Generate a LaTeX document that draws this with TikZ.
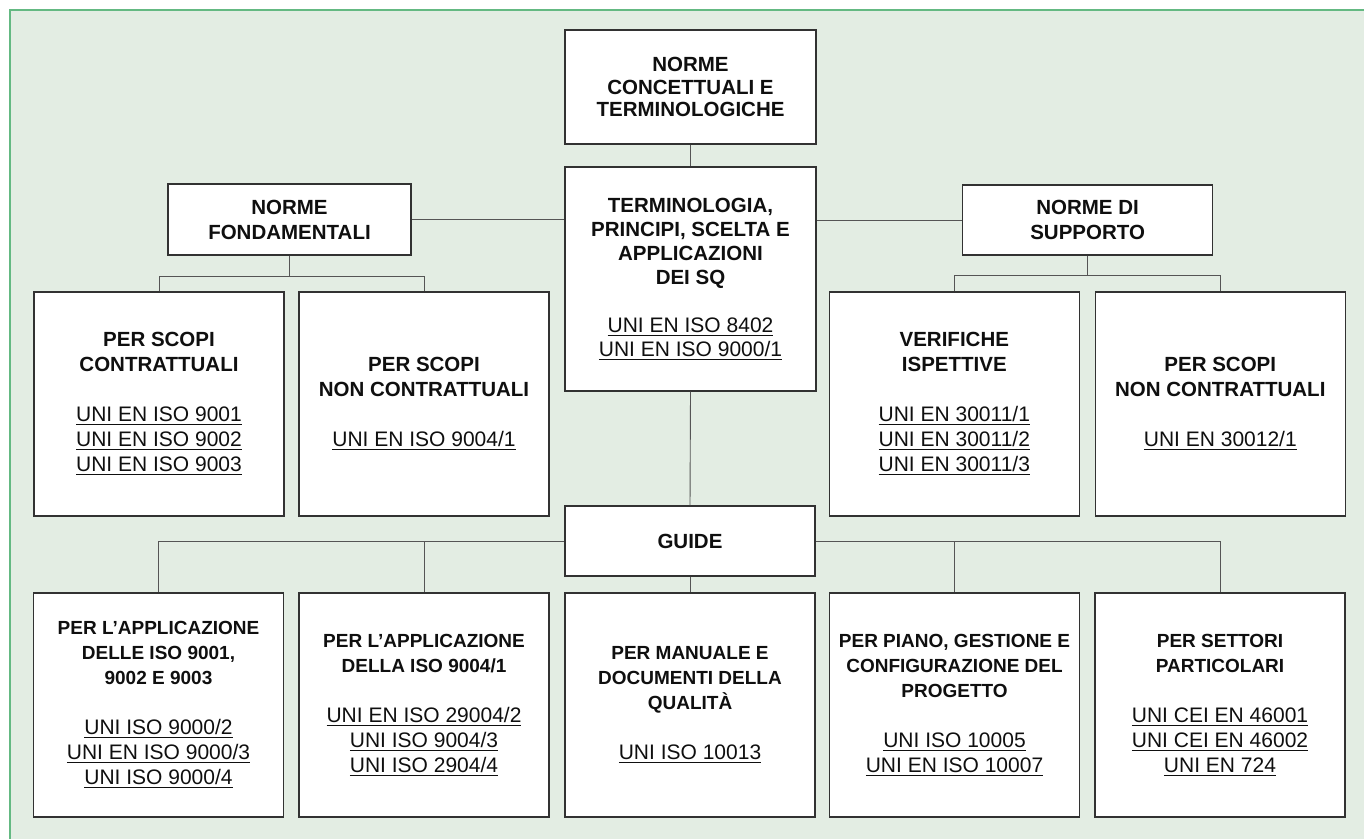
\documentclass[tikz,border=0pt]{standalone}
\usepackage{fontspec}
\setmainfont{Liberation Sans}
\usetikzlibrary{calc}
\definecolor{framefill}{RGB}{227,237,227}
\definecolor{frameline}{RGB}{100,185,130}
\definecolor{boxline}{RGB}{50,50,50}
\definecolor{conline}{RGB}{85,85,85}
\definecolor{txt}{RGB}{15,15,15}
\newcommand\undl[1]{{\fontsize{21}{25}\selectfont\mdseries\setbox0=\hbox{#1}\rlap{\rule[-3.6pt]{\wd0}{1.3pt}}\box0}}
\tikzset{
  box/.style={draw=boxline, fill=white, line width=1.1pt, align=center, inner sep=0pt, text=txt},
  bigbox/.style={box, minimum width=250pt, minimum height=224pt},
  topfont/.style={font=\fontsize{20.5}{25}\selectfont\bfseries},
  botfont/.style={font=\fontsize{19}{25}\selectfont\bfseries},
  con/.style={draw=conline, line width=0.9pt}
}
\begin{document}
\begin{tikzpicture}[x=1pt,y=-1pt]
\useasboundingbox (0,0) rectangle (1364,839);
\fill[white] (0,0) rectangle (1364,839);
\fill[framefill] (10,10) rectangle (1364,839);
\draw[frameline, line width=1.6pt] (10,839) -- (10,10) -- (1364,10);

% top level
\node[box, minimum width=251pt, minimum height=114pt, font=\fontsize{20.5}{22.5}\selectfont\bfseries] (top) at (690.5,87) {NORME\\CONCETTUALI E\\TERMINOLOGICHE};
\node[box, minimum width=251pt, minimum height=224pt, font=\fontsize{20.5}{24}\selectfont\bfseries] (c) at (690.5,279) {TERMINOLOGIA,\\PRINCIPI, SCELTA E\\APPLICAZIONI\\DEI SQ\\[24pt]\undl{UNI EN ISO 8402}\\\undl{UNI EN ISO 9000/1}};
\node[box, minimum width=243pt, minimum height=71pt, topfont] (nf) at (289.5,219.5) {NORME\\FONDAMENTALI};
\node[box, minimum width=250pt, minimum height=70pt, topfont] (ns) at (1087.6,220) {NORME DI\\SUPPORTO};

% second level
\node[bigbox, topfont] (b1) at (159,404) {PER SCOPI\\CONTRATTUALI\\[25pt]\undl{UNI EN ISO 9001}\\\undl{UNI EN ISO 9002}\\\undl{UNI EN ISO 9003}};
\node[bigbox, topfont] (b2) at (424,404) {PER SCOPI\\NON CONTRATTUALI\\[25pt]\undl{UNI EN ISO 9004/1}};
\node[bigbox, topfont] (b3) at (954.3,404) {VERIFICHE\\ISPETTIVE\\[25pt]\undl{UNI EN 30011/1}\\\undl{UNI EN 30011/2}\\\undl{UNI EN 30011/3}};
\node[bigbox, topfont] (b4) at (1220.3,404) {PER SCOPI\\NON CONTRATTUALI\\[25pt]\undl{UNI EN 30012/1}};

% guides
\node[box, minimum width=250pt, minimum height=70pt, topfont] (guide) at (690,541) {GUIDE};
\node[bigbox, botfont] (g1) at (158.5,705) {PER L’APPLICAZIONE\\DELLE ISO 9001,\\9002 E 9003\\[25pt]\undl{UNI ISO 9000/2}\\\undl{UNI EN ISO 9000/3}\\\undl{UNI ISO 9000/4}};
\node[bigbox, botfont] (g2) at (424,705) {PER L’APPLICAZIONE\\DELLA ISO 9004/1\\[25pt]\undl{UNI EN ISO 29004/2}\\\undl{UNI ISO 9004/3}\\\undl{UNI ISO 2904/4}};
\node[bigbox, botfont] (g3) at (690,705) {PER MANUALE E\\DOCUMENTI DELLA\\QUALITÀ\\[25pt]\undl{UNI ISO 10013}};
\node[bigbox, botfont] (g4) at (954.5,705) {PER PIANO, GESTIONE E\\CONFIGURAZIONE DEL\\PROGETTO\\[25pt]\undl{UNI ISO 10005}\\\undl{UNI EN ISO 10007}};
\node[bigbox, botfont] (g5) at (1220,705) {PER SETTORI\\PARTICOLARI\\[25pt]\undl{UNI CEI EN 46001}\\\undl{UNI CEI EN 46002}\\\undl{UNI EN 724}};

% connectors
\draw[con] (top.south) -- (c.north);
\draw[con] (nf.east) -- (nf.east -| c.west);
\draw[con] (ns.west) -- (ns.west -| c.east);
\draw[con] (nf.south) -- ++(0,21) coordinate (jl);
\draw[con] (b1.north) |- (jl) -| (b2.north);
\draw[con] (ns.south) -- ++(0,20) coordinate (jr);
\draw[con] (b3.north) |- (jr) -| (b4.north);
\draw[con] (c.south) -- (guide.north);
\draw[con] (guide.south) -- (g3.north);
\draw[con] (g1.north) |- (guide.west);
\draw[con] (g2.north) -- (g2.north |- guide.west);
\draw[con] (g5.north) |- (guide.east);
\draw[con] (g4.north) -- (g4.north |- guide.east);
\end{tikzpicture}
\end{document}
